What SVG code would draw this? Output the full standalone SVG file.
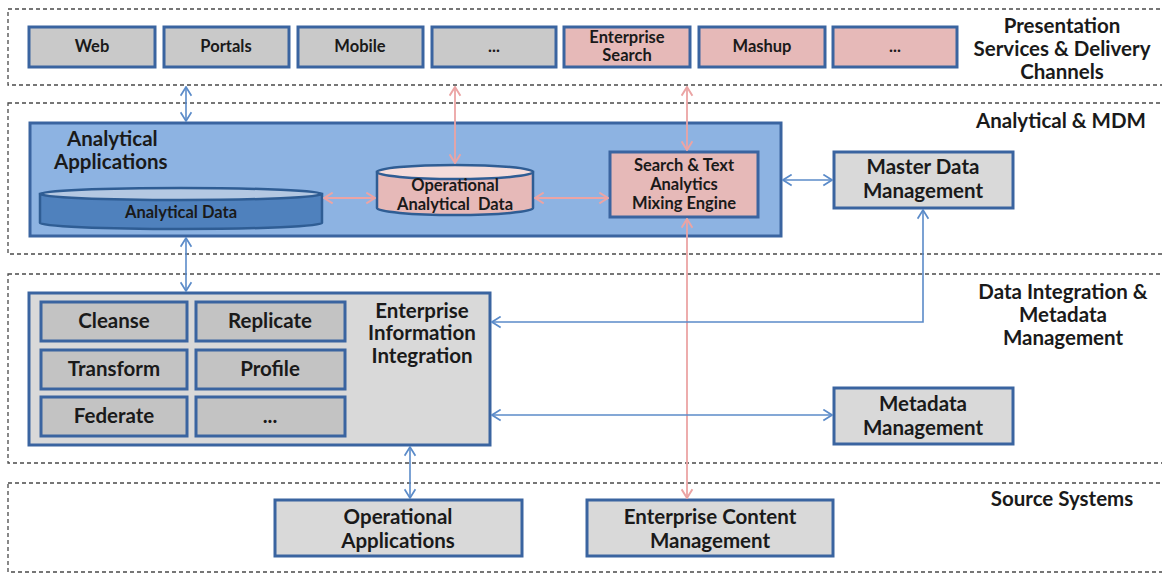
<svg xmlns="http://www.w3.org/2000/svg" width="1162" height="575" viewBox="0 0 1162 575">
  <style>
    .zone { fill: none; stroke: #4a4a4a; stroke-width: 1.3; stroke-dasharray: 4 3; }
    .box { stroke: #3A64A0; stroke-width: 3; }
    .gray { fill: #C9C9C9; }
    .light { fill: #D9D9D9; }
    .inner { fill: #C3C3C3; }
    .pink { fill: #E6B9B8; }
    .blue { fill: #8DB3E2; }
    text { font-family: Lato, "Liberation Sans", sans-serif; font-weight: bold; fill: #1a1a1a; text-anchor: middle; }
    .s { font-size: 16.5px; }
    .l { font-size: 20.5px; }
    .ln-b { fill: none; stroke: #5B8BC9; stroke-width: 1.6; }
    .ln-p { fill: none; stroke: #EBA4A4; stroke-width: 1.8; }
  </style>
  <defs>
    <marker id="ab" viewBox="0 0 10 12" refX="9" refY="6" markerWidth="11" markerHeight="13" markerUnits="userSpaceOnUse" orient="auto-start-reverse">
      <path d="M1,1 L9,6 L1,11" fill="none" stroke="#5B8BC9" stroke-width="1.6"/>
    </marker>
    <marker id="ap" viewBox="0 0 10 12" refX="9" refY="6" markerWidth="11" markerHeight="13" markerUnits="userSpaceOnUse" orient="auto-start-reverse">
      <path d="M1,1 L9,6 L1,11" fill="none" stroke="#EBA4A4" stroke-width="1.8"/>
    </marker>
  </defs>
  <rect width="1162" height="575" fill="#ffffff"/>

  <!-- layer zones -->
  <g id="zones">
    <rect class="zone" x="8" y="9" width="1170" height="76"/>
    <rect class="zone" x="8" y="103" width="1170" height="151"/>
    <rect class="zone" x="8" y="274" width="1170" height="189"/>
    <rect class="zone" x="8" y="483" width="1170" height="89"/>
  </g>

  <!-- layer titles -->
  <g id="zone-labels">
    <text class="l" x="1062" y="33">Presentation</text>
    <text class="l" x="1062" y="56">Services &amp; Delivery</text>
    <text class="l" x="1062" y="79">Channels</text>
    <text class="l" x="1061" y="128">Analytical &amp; MDM</text>
    <text class="l" x="1063" y="299">Data Integration &amp;</text>
    <text class="l" x="1063" y="322">Metadata</text>
    <text class="l" x="1063" y="345">Management</text>
    <text class="l" x="1062" y="506">Source Systems</text>
  </g>

  <!-- presentation channels -->
  <g id="web"><rect class="box gray" x="29" y="27" width="126" height="40"/><text class="s" x="92" y="52">Web</text></g>
  <g id="portals"><rect class="box gray" x="164" y="27" width="125" height="40"/><text class="s" x="226" y="52">Portals</text></g>
  <g id="mobile"><rect class="box gray" x="298" y="27" width="125" height="40"/><text class="s" x="360" y="52">Mobile</text></g>
  <g id="more-channels"><rect class="box gray" x="432" y="27" width="124" height="40"/><text class="s" x="494" y="52">...</text></g>
  <g id="enterprise-search"><rect class="box pink" x="564" y="27" width="126" height="40"/><text class="s" x="627" y="43">Enterprise</text><text class="s" x="627" y="61">Search</text></g>
  <g id="mashup"><rect class="box pink" x="699" y="27" width="126" height="40"/><text class="s" x="762" y="52">Mashup</text></g>
  <g id="more-pink"><rect class="box pink" x="833" y="27" width="124" height="40"/><text class="s" x="895" y="52">...</text></g>

  <!-- analytical applications -->
  <g id="analytical-applications">
    <rect class="box blue" x="30" y="123" width="751" height="113"/>
    <text class="l" x="67" y="146" style="text-anchor:start">Analytical</text>
    <text class="l" x="54" y="169" style="text-anchor:start">Applications</text>
  </g>
  <g id="analytical-data">
    <path d="M40,194 V223 A141,6 0 0 0 322,223 V194 Z" fill="#4F81BD" stroke="#2F5D94" stroke-width="2.5"/>
    <ellipse cx="181" cy="194" rx="141" ry="6" fill="#B4C8E2" stroke="#2F5D94" stroke-width="2.5"/>
    <text class="s" x="181" y="218">Analytical Data</text>
  </g>
  <g id="operational-analytical-data">
    <path d="M377,172 V208 A78,7 0 0 0 533,208 V172 Z" fill="#E6B9B8" stroke="#2F5D94" stroke-width="2.5"/>
    <ellipse cx="455" cy="172" rx="78" ry="7" fill="#F4DCDB" stroke="#2F5D94" stroke-width="2.5"/>
    <text class="s" x="455" y="191">Operational</text>
    <text class="s" x="455" y="210">Analytical&#160; Data</text>
  </g>
  <g id="search-text-analytics">
    <rect class="box pink" x="610" y="152" width="148" height="65"/>
    <text class="s" x="684" y="171">Search &amp; Text</text>
    <text class="s" x="684" y="190">Analytics</text>
    <text class="s" x="684" y="209">Mixing Engine</text>
  </g>
  <g id="master-data-management">
    <rect class="box light" x="834" y="152" width="179" height="56"/>
    <text class="l" x="923" y="174">Master Data</text>
    <text class="l" x="923" y="198">Management</text>
  </g>

  <!-- enterprise information integration -->
  <g id="enterprise-information-integration">
    <rect class="box light" x="29" y="293" width="461" height="152"/>
    <text class="l" x="422" y="318">Enterprise</text>
    <text class="l" x="422" y="340">Information</text>
    <text class="l" x="422" y="363">Integration</text>
  </g>
  <g id="cleanse"><rect class="box inner" x="41" y="302" width="146" height="39"/><text class="l" x="114" y="328">Cleanse</text></g>
  <g id="replicate"><rect class="box inner" x="196" y="302" width="149" height="39"/><text class="l" x="270" y="328">Replicate</text></g>
  <g id="transform"><rect class="box inner" x="41" y="350" width="146" height="39"/><text class="l" x="114" y="376">Transform</text></g>
  <g id="profile"><rect class="box inner" x="196" y="350" width="149" height="39"/><text class="l" x="270" y="376">Profile</text></g>
  <g id="federate"><rect class="box inner" x="41" y="397" width="146" height="39"/><text class="l" x="114" y="423">Federate</text></g>
  <g id="more-integration"><rect class="box inner" x="196" y="397" width="149" height="39"/><text class="l" x="270" y="423">...</text></g>

  <g id="metadata-management">
    <rect class="box light" x="834" y="388" width="179" height="56"/>
    <text class="l" x="923" y="411">Metadata</text>
    <text class="l" x="923" y="435">Management</text>
  </g>

  <!-- source systems -->
  <g id="operational-applications">
    <rect class="box light" x="275" y="500" width="247" height="56"/>
    <text class="l" x="398" y="524">Operational</text>
    <text class="l" x="398" y="548">Applications</text>
  </g>
  <g id="enterprise-content-management">
    <rect class="box light" x="587" y="500" width="246" height="56"/>
    <text class="l" x="710" y="524">Enterprise Content</text>
    <text class="l" x="710" y="548">Management</text>
  </g>

  <!-- connectors -->
  <g id="connectors">
    <line class="ln-b" x1="186" y1="87" x2="186" y2="121" marker-start="url(#ab)" marker-end="url(#ab)"/>
    <line class="ln-p" x1="455" y1="87" x2="455" y2="163" marker-start="url(#ap)" marker-end="url(#ap)"/>
    <line class="ln-p" x1="687" y1="87" x2="687" y2="150" marker-start="url(#ap)" marker-end="url(#ap)"/>
    <line class="ln-p" x1="324" y1="198" x2="375" y2="198" marker-start="url(#ap)" marker-end="url(#ap)"/>
    <line class="ln-p" x1="535" y1="198" x2="608" y2="198" marker-start="url(#ap)" marker-end="url(#ap)"/>
    <line class="ln-b" x1="783" y1="180" x2="832" y2="180" marker-start="url(#ab)" marker-end="url(#ab)"/>
    <line class="ln-b" x1="186" y1="238" x2="186" y2="291" marker-start="url(#ab)" marker-end="url(#ab)"/>
    <line class="ln-p" x1="687" y1="219" x2="687" y2="498" marker-start="url(#ap)" marker-end="url(#ap)"/>
    <polyline class="ln-b" points="923,210 923,322 492,322" marker-start="url(#ab)" marker-end="url(#ab)"/>
    <line class="ln-b" x1="492" y1="415" x2="832" y2="415" marker-start="url(#ab)" marker-end="url(#ab)"/>
    <line class="ln-b" x1="410" y1="447" x2="410" y2="498" marker-start="url(#ab)" marker-end="url(#ab)"/>
  </g>
</svg>
